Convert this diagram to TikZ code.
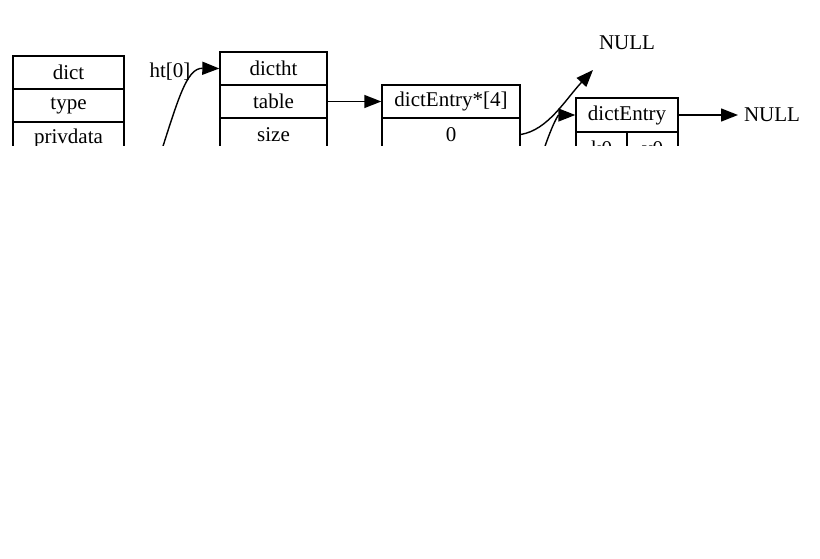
\documentclass[tikz,border=0pt]{standalone}
\usepackage{fontspec}
\setmainfont{Liberation Serif}
\usetikzlibrary{arrows.meta}
\begin{document}
\begin{tikzpicture}[x=1pt,y=-1pt,
  cell/.style={draw, line width=1.4pt, inner sep=0pt, font=\fontsize{21}{25}\selectfont},
  lbl/.style={inner sep=0pt, font=\fontsize{21}{25}\selectfont},
  conn/.style={line width=1.4pt, -{Triangle[length=17pt,width=13pt]}}]
\useasboundingbox (0,0) rectangle (820,559);
\begin{scope}
\clip (0,0) rectangle (820,146);
% dict
\node[cell, minimum width=111pt, minimum height=33pt] (d0) at (68.5,72.5) {dict};
\node[cell, minimum width=111pt, minimum height=33pt] (d1) at (68.5,105.5) {type};
\node[cell, minimum width=111pt, minimum height=33pt] (d2) at (68.5,138.5) {privdata};
% dictht
\node[cell, minimum width=107pt, minimum height=33pt] (h0) at (273.5,68.5) {dictht};
\node[cell, minimum width=107pt, minimum height=33pt] (h1) at (273.5,101.5) {table};
\node[cell, minimum width=107pt, minimum height=33pt] (h2) at (273.5,134.5) {size};
% table
\node[cell, minimum width=138pt, minimum height=33pt] (t0) at (451,101.5) {dictEntry*[4]};
\node[cell, minimum width=138pt, minimum height=33pt] (t1) at (451,134.5) {0};
% dictEntry
\node[cell, minimum width=102pt, minimum height=34pt] (e0) at (627,115) {dictEntry};
\node[cell, minimum width=51pt, minimum height=33pt] (ek) at (601.5,148.5) {k0};
\node[cell, minimum width=51pt, minimum height=33pt] (ev) at (652.5,148.5) {v0};
% NULLs
\node[lbl] (n1) at (627,43) {NULL};
\node[lbl] (n2) at (772,115) {NULL};
\coordinate (n1tip) at (593,70);
% ht label
\node[lbl] (htl) at (170,72) {ht[0]};
% hidden starts below cut
\coordinate (htstart) at (156,168);
\coordinate (t2start) at (538,168);
% connectors
\draw[conn] (htstart) .. controls (178,100) and (186,68) .. (h0.west);
\draw[conn] (h1.east) -- (t0.west);
\draw[conn] (t1.east) .. controls (548,130) and (565,100) .. (n1tip);
\draw[conn] (t2start) .. controls (550,128) and (558,115) .. (e0.west);
\draw[conn] (e0.east) -- (738,115);
\end{scope}
\end{tikzpicture}
\end{document}
